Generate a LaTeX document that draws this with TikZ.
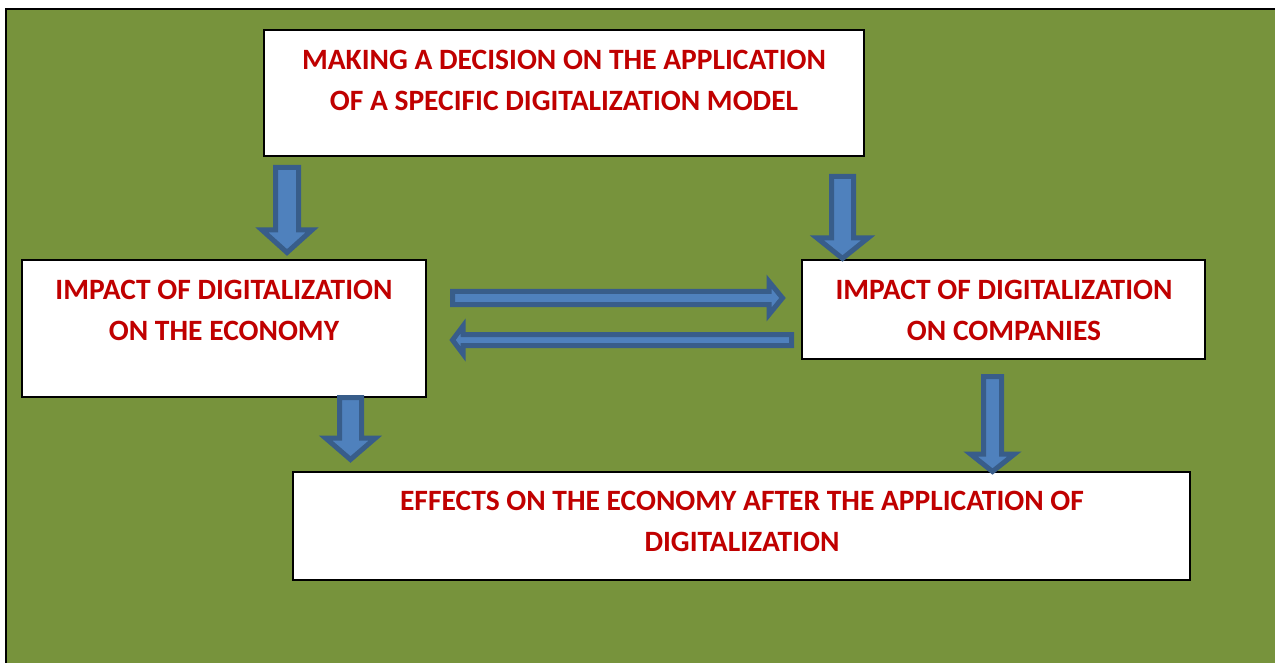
\documentclass[tikz,border=0pt]{standalone}
\usepackage{fontspec}
\setmainfont{Carlito}
\usepackage{tikz}
\usetikzlibrary{calc}

\definecolor{bggreen}{HTML}{77933C}
\definecolor{arrowfill}{HTML}{4F81BD}
\definecolor{arrowline}{HTML}{385D8A}
\definecolor{titlered}{HTML}{C00000}

% block arrow: start, tip, shaft half width, head half width, head length
\newcommand{\blockarrow}[5]{%
  \draw[blockarrow] ($(#1)!#3!90:(#2)$) -- ($(#2)!#5!(#1)!#3!90:(#2)$)
    -- ($(#2)!#5!(#1)!#4!90:(#2)$) -- (#2)
    -- ($(#2)!#5!(#1)!#4!-90:(#2)$) -- ($(#2)!#5!(#1)!#3!-90:(#2)$)
    -- ($(#1)!#3!-90:(#2)$) -- cycle;}

\begin{document}
\begin{tikzpicture}[x=1pt, y=-1pt,
    itembox/.style={draw=black, line width=1.2pt, fill=white, inner sep=0pt},
    boxtext/.style={text=titlered, font=\bfseries\fontsize{29.5}{41}\selectfont, align=center, inner sep=0pt},
    blockarrow/.style={draw=arrowline, fill=arrowfill, line width=5pt, line join=miter}]
    \useasboundingbox (0,0) rectangle (1275,663);
    \clip (0,0) rectangle (1275,663);

    % green background with frame
    \draw[fill=bggreen, line width=2.5pt] (6,9) rectangle (1300,700);

    % boxes
    \node[itembox, minimum width=600, minimum height=126] (decision) at (564,93) {};
    \node[itembox, minimum width=404, minimum height=137] (economy) at (224,328.5) {};
    \node[itembox, minimum width=403, minimum height=99] (companies) at (1003.5,309.5) {};
    \node[itembox, minimum width=897, minimum height=108] (effects) at (741.5,526) {};

    % box texts
    \node[boxtext] (decision-text) at (564,80.5) {MAKING A DECISION ON THE APPLICATION\\OF A SPECIFIC DIGITALIZATION MODEL};
    \node[boxtext] (economy-text) at (224,310.5) {IMPACT OF DIGITALIZATION\\ON THE ECONOMY};
    \node[boxtext] (companies-text) at (1004,310.5) {IMPACT OF DIGITALIZATION\\ON COMPANIES};
    \node[boxtext] (effects-text) at (742,521.5) {EFFECTS ON THE ECONOMY AFTER THE APPLICATION OF\\DIGITALIZATION};

    % arrow end points
    \coordinate (dec-econ-s) at (287,167.5);
    \coordinate (dec-econ-e) at (287,252.5);
    \coordinate (dec-comp-s) at (842.5,176.5);
    \coordinate (dec-comp-e) at (842.5,258.5);
    \coordinate (econ-comp-s) at (452.5,298);
    \coordinate (econ-comp-e) at (782.5,298);
    \coordinate (comp-econ-s) at (791.5,340);
    \coordinate (comp-econ-e) at (452.5,340);
    \coordinate (econ-eff-s) at (350.5,397.5);
    \coordinate (econ-eff-e) at (350.5,459.5);
    \coordinate (comp-eff-s) at (992.5,376.5);
    \coordinate (comp-eff-e) at (992.5,471.5);

    % block arrows
    \blockarrow{dec-econ-s}{dec-econ-e}{11.5pt}{25pt}{22.5pt}
    \blockarrow{dec-comp-s}{dec-comp-e}{11pt}{25.5pt}{20.5pt}
    \blockarrow{econ-comp-s}{econ-comp-e}{6.5pt}{16.5pt}{13.5pt}
    \blockarrow{comp-econ-s}{comp-econ-e}{5.5pt}{14pt}{10.5pt}
    \blockarrow{econ-eff-s}{econ-eff-e}{11pt}{25pt}{21.5pt}
    \blockarrow{comp-eff-s}{comp-eff-e}{9pt}{22pt}{17.5pt}
\end{tikzpicture}
\end{document}
